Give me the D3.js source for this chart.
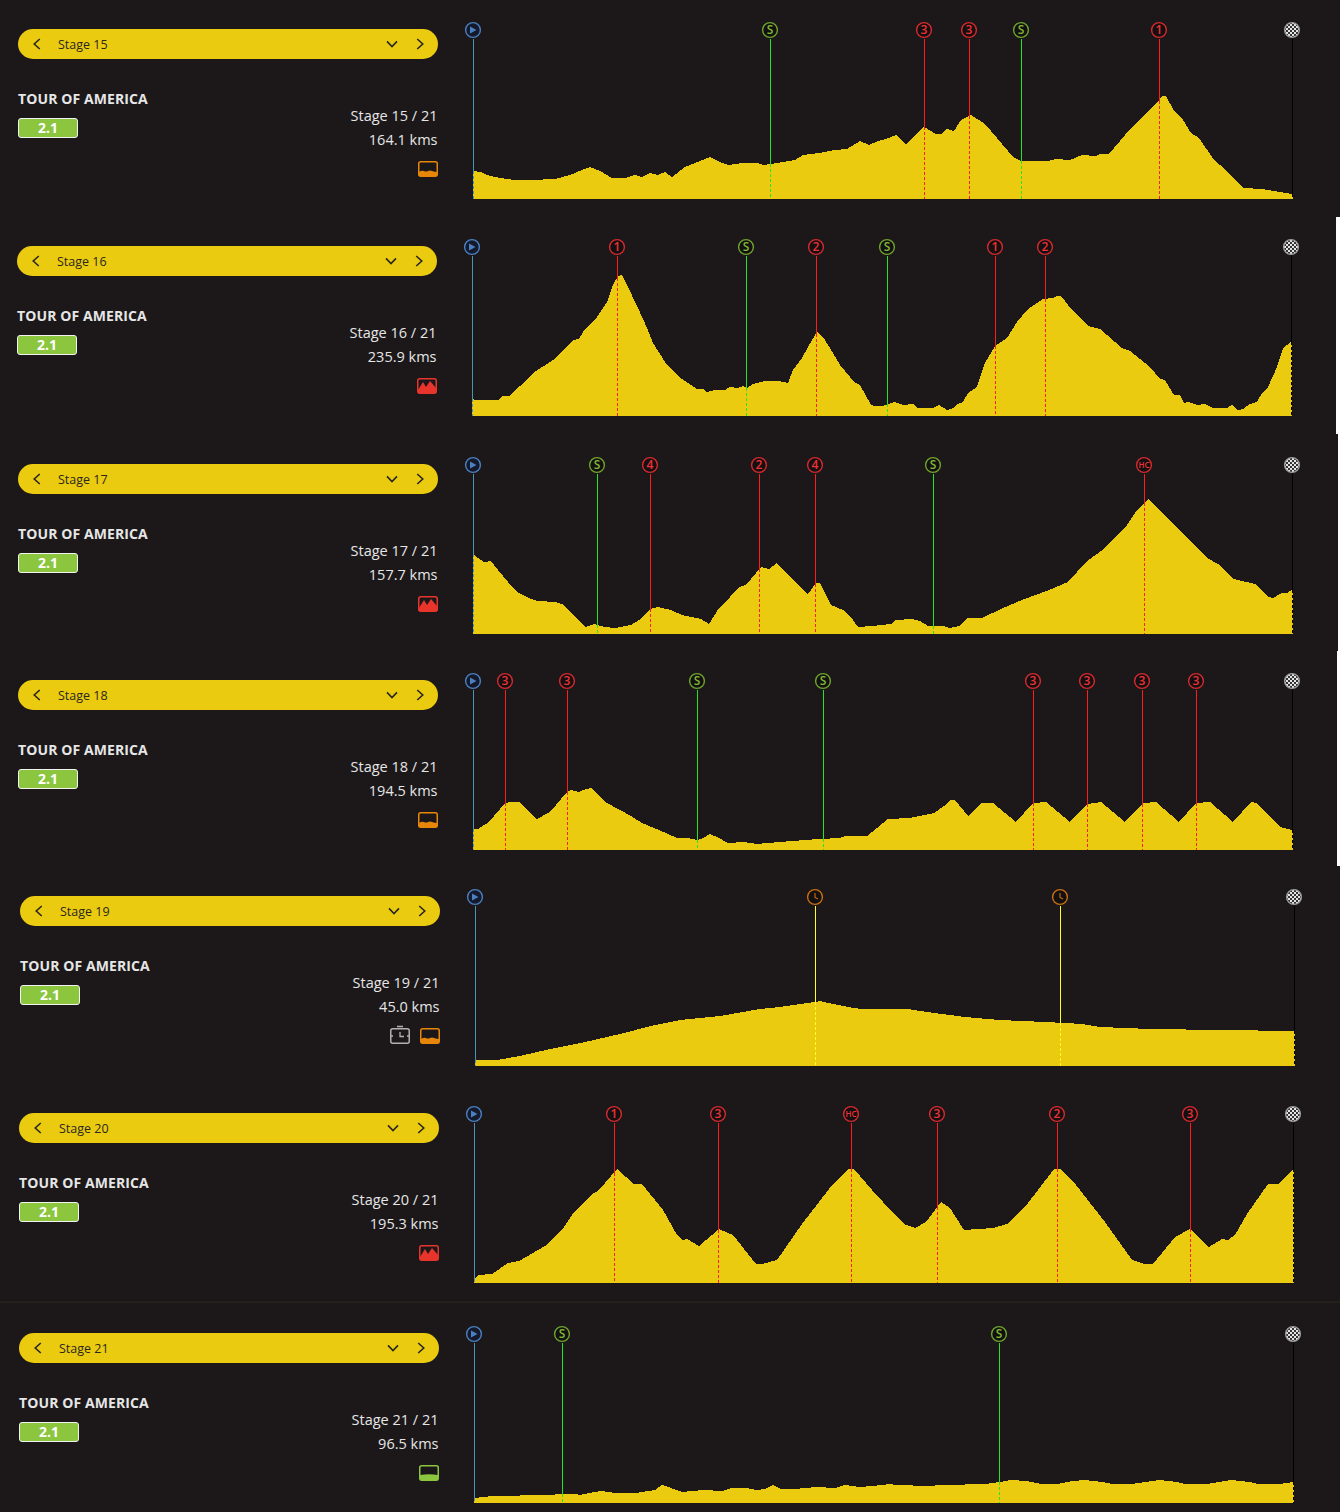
<!DOCTYPE html>
<html><head><meta charset="utf-8">
<script src="https://cdn.jsdelivr.net/npm/d3@7/dist/d3.min.js"></script>
<style>
html,body{margin:0;padding:0;background:#1c181a;overflow:hidden}
svg{display:block}
text{font-family:"Open Sans",sans-serif}
</style></head><body><svg id="c" width="1340" height="1512"></svg>
<script>
// Route position (0-819 along the stage) and elevation units
const stage15Profile=[[0,28],[8,27],[14,24],[27,21],[42,19],[57,19],[82,20],[97,24],[109,29],[117,32],[127,28],[139,21],[152,21],[162,24],[169,22],[177,26],[185,24],[192,27],[199,22],[212,32],[227,38],[237,42],[247,37],[255,34],[269,36],[285,36],[290,34],[298,35],[322,39],[330,44],[346,46],[362,49],[374,50],[387,58],[396,54],[405,58],[413,60],[423,64],[433,55],[451,72],[463,65],[468,65],[474,70],[481,68],[488,79],[498,84],[512,75],[524,61],[540,42],[548,38],[575,38],[583,40],[597,39],[609,44],[623,43],[627,45],[636,45],[658,71],[686,98],[689,103],[693,103],[700,90],[710,79],[718,66],[726,61],[741,39],[747,34],[755,26],[771,11],[789,10],[801,8],[819,5]];
const stage16Profile=[[0,17],[3,16],[26,16],[31,20],[37,20],[48,30],[61,43],[81,56],[93,68],[101,76],[107,77],[113,87],[125,99],[135,114],[141,131],[146,140],[150,141],[155,131],[166,108],[175,88],[181,73],[193,54],[200,46],[210,37],[225,27],[231,27],[235,24],[243,26],[253,26],[258,29],[266,28],[271,30],[275,28],[281,32],[293,35],[306,35],[316,33],[321,46],[330,58],[336,69],[345,84],[351,79],[361,63],[368,51],[383,33],[387,32],[392,24],[399,11],[402,10],[410,10],[416,12],[423,14],[431,11],[441,12],[446,8],[451,8],[461,8],[467,11],[475,6],[481,8],[486,12],[491,14],[496,23],[505,29],[513,53],[523,70],[535,78],[545,94],[556,107],[571,117],[581,118],[585,120],[589,120],[600,106],[616,90],[628,87],[650,68],[658,65],[678,49],[688,37],[693,36],[702,21],[708,21],[712,13],[716,14],[725,11],[733,12],[741,8],[748,8],[755,8],[760,11],[766,6],[771,7],[778,12],[785,14],[790,23],[796,29],[805,49],[811,68],[819,74]];
const stage17Profile=[[0,80],[5,76],[11,72],[18,73],[25,64],[35,52],[44,42],[56,36],[64,33],[83,32],[91,29],[102,17],[113,7],[121,10],[132,7],[142,6],[158,9],[166,14],[177,25],[185,27],[198,24],[209,19],[228,15],[236,10],[246,26],[257,37],[266,47],[273,49],[288,67],[296,65],[304,71],[313,61],[335,40],[343,51],[347,51],[358,29],[370,24],[380,14],[385,7],[399,8],[418,10],[423,14],[439,15],[447,13],[455,8],[471,8],[476,6],[487,8],[494,16],[509,16],[528,25],[549,34],[576,44],[595,52],[613,72],[632,86],[654,109],[664,124],[675,135],[683,127],[704,107],[734,76],[745,70],[761,55],[782,50],[795,37],[800,36],[809,41],[814,41],[819,44]];
const stage18Profile=[[0,21],[5,21],[16,28],[32,47],[38,48],[46,48],[64,31],[77,38],[94,58],[98,60],[106,58],[113,61],[118,62],[134,47],[158,34],[169,27],[193,17],[204,12],[214,12],[225,10],[230,12],[237,16],[246,12],[255,7],[270,8],[284,6],[295,7],[319,9],[346,11],[367,12],[372,14],[394,14],[404,22],[415,31],[437,32],[461,37],[471,44],[477,50],[482,50],[495,34],[509,47],[520,47],[543,28],[560,47],[573,48],[597,28],[614,46],[628,48],[652,28],[670,47],[683,48],[706,28],[723,47],[737,48],[760,28],[778,48],[784,47],[807,23],[819,20]];
const stage19Profile=[[0,6],[22,6],[45,10],[75,17],[110,24],[145,32],[180,41],[205,46],[245,50],[285,57],[305,59],[318,61],[340,64],[345,65],[353,63],[378,58],[387,57],[433,57],[452,54],[490,49],[525,46],[570,44],[590,43],[607,42],[625,39],[675,37],[819,35]];
const stage20Profile=[[0,4],[4,8],[18,9],[34,20],[45,22],[71,37],[90,56],[98,68],[117,88],[125,93],[143,114],[160,99],[168,99],[189,73],[203,48],[208,43],[213,44],[225,37],[245,54],[259,48],[282,19],[288,19],[303,23],[328,59],[342,77],[358,98],[374,114],[380,114],[398,93],[420,69],[430,59],[441,55],[452,61],[467,81],[476,75],[490,53],[519,55],[533,59],[551,76],[580,114],[586,114],[602,98],[631,61],[658,23],[671,19],[679,19],[701,46],[716,54],[735,36],[748,44],[754,43],[761,48],[773,69],[794,99],[805,99],[819,114]];
const stage21Profile=[[0,5],[19,7],[74,8],[87,9],[101,9],[106,8],[120,11],[128,12],[141,10],[162,10],[181,13],[188,18],[197,15],[208,11],[229,13],[248,12],[257,15],[272,15],[283,13],[291,14],[299,18],[307,14],[320,14],[342,16],[361,15],[370,18],[379,17],[385,16],[398,17],[417,19],[420,18],[436,18],[441,17],[460,17],[462,18],[489,18],[492,19],[511,19],[526,21],[537,23],[553,22],[567,19],[583,19],[599,22],[611,23],[628,21],[639,19],[658,19],[685,23],[703,21],[711,19],[733,19],[757,23],[776,21],[784,19],[805,19],[819,21]];

const stage15Points=[[0,'start'],[297,'S'],[451,'3'],[496,'3'],[548,'S'],[686,'1'],[819,'finish']];
const stage16Points=[[0,'start'],[145,'1'],[274,'S'],[344,'2'],[415,'S'],[523,'1'],[573,'2'],[819,'finish']];
const stage17Points=[[0,'start'],[124,'S'],[177,'4'],[286,'2'],[342,'4'],[460,'S'],[671,'HC'],[819,'finish']];
const stage18Points=[[0,'start'],[32,'3'],[94,'3'],[224,'S'],[350,'S'],[560,'3'],[614,'3'],[669,'3'],[723,'3'],[819,'finish']];
const stage19Points=[[0,'start'],[340,'clock'],[585,'clock'],[819,'finish']];
const stage20Points=[[0,'start'],[140,'1'],[244,'3'],[377,'HC'],[463,'3'],[583,'2'],[716,'3'],[819,'finish']];
const stage21Points=[[0,'start'],[88,'S'],[525,'S'],[819,'finish']];

const stageNumbers=[15,16,17,18,19,20,21];
const stageKms=['164.1','235.9','157.7','194.5','45.0','195.3','96.5'];
const stageTerrain=['hills','mountain','mountain','hills','hills','mountain','flat'];
const stageTimed=[false,false,false,false,true,false,false];
const raceName='TOUR OF AMERICA';
const raceClass='2.1';
const stageProfiles=[stage15Profile,stage16Profile,stage17Profile,stage18Profile,stage19Profile,stage20Profile,stage21Profile];
const stagePoints=[stage15Points,stage16Points,stage17Points,stage18Points,stage19Points,stage20Points,stage21Points];

// layout
const panelDx=[0,-1,0,0,2,1,1];
const panelDy=[0,217,435,651,867,1084,1304];
const YEL='#ebcb0f',BG='#1c181a';
const terrainColor={hills:'#e8860a',mountain:'#e8352c',flat:'#8cc63f'};
const svg=d3.select('#c');
svg.append('rect').attr('width',1340).attr('height',1512).attr('fill',BG);

const defs=svg.append('defs');
const pat=defs.append('pattern').attr('id','chk').attr('width',4).attr('height',4).attr('patternUnits','userSpaceOnUse');
pat.append('rect').attr('width',4).attr('height',4).attr('fill','#e4e4e4');
pat.append('rect').attr('width',2).attr('height',2).attr('fill','#333');
pat.append('rect').attr('x',2).attr('y',2).attr('width',2).attr('height',2).attr('fill','#333');

// screenshot seams
[[1336,217,434],[1338,434,651],[1337,651,866]].forEach(s=>svg.append('rect').attr('x',s[0]).attr('y',s[1]).attr('width',1340-s[0]).attr('height',s[2]-s[1]).attr('fill','#fff'));
svg.append('rect').attr('x',0).attr('y',1301.5).attr('width',1340).attr('height',1.5).attr('fill','#26221e');

const chev=(g,x,y,dir)=>{
  const s=3.6,t=5;
  const d={left:`M${x+s/1.3},${y-t}L${x-s/1.3},${y}L${x+s/1.3},${y+t}`,
           right:`M${x-s/1.3},${y-t}L${x+s/1.3},${y}L${x-s/1.3},${y+t}`,
           down:`M${x-t},${y-s/1.4}L${x},${y+s/1.4}L${x+t},${y-s/1.4}`}[dir];
  g.append('path').attr('d',d).attr('fill','none').attr('stroke','#2a2620').attr('stroke-width',1.6);
};

function icon(g,x,y,kind){
  const c=terrainColor[kind],w=20,h=16;
  g.append('rect').attr('x',x+.75).attr('y',y+.75).attr('width',w-1.5).attr('height',h-1.5).attr('rx',2).attr('fill',BG).attr('stroke',c).attr('stroke-width',1.5);
  let d;
  if(kind==='hills') d=`M${x+1},${y+11}q3,-2 5,-1q2,1 4,0q2,-1 4,0q3,1 5,1V${y+15}H${x+1}Z`;
  if(kind==='mountain') d=`M${x+1},${y+12}L${x+6},${y+4}L${x+9},${y+9}L${x+13},${y+3}L${x+19},${y+10}V${y+15}H${x+1}Z`;
  if(kind==='flat') d=`M${x+1},${y+10}q9,-1.5 18,0V${y+15}H${x+1}Z`;
  g.append('path').attr('d',d).attr('fill',c);
}
function clockIcon(g,x,y){
  const c='#b0b0b0';
  g.append('rect').attr('x',x+.75).attr('y',y+.75).attr('width',18.5).attr('height',14.5).attr('rx',2).attr('fill','none').attr('stroke',c).attr('stroke-width',1.5);
  g.append('path').attr('d',`M${x+7},${y-1.5}h6M${x+10},${y+4}v4.5h4M${x+1},${y+8}h2M${x+17},${y+8}h2`).attr('fill','none').attr('stroke',c).attr('stroke-width',1.3);
}

stageNumbers.forEach((num,i)=>{
  const dx=panelDx[i],dy=panelDy[i];
  const g=svg.append('g');
  // header bar
  g.append('rect').attr('x',18+dx).attr('y',29+dy).attr('width',420).attr('height',30).attr('rx',15).attr('fill',YEL);
  chev(g,37+dx,44+dy,'left');chev(g,392+dx,44+dy,'down');chev(g,420+dx,44+dy,'right');
  g.append('text').attr('x',58+dx).attr('y',49+dy).attr('font-size',12.5).attr('fill','#2a2620').text('Stage '+num);
  g.append('text').attr('x',18+dx).attr('y',104+dy).attr('font-size',14).attr('font-weight',700).attr('letter-spacing',.1).attr('fill','#e6e6e6').text(raceName);
  g.append('rect').attr('x',18.5+dx).attr('y',118.5+dy).attr('width',59).attr('height',19).attr('rx',2.5).attr('fill','#8cc63f').attr('stroke','#f2f2f2').attr('stroke-width',1);
  g.append('text').attr('x',48+dx).attr('y',133+dy).attr('text-anchor','middle').attr('font-size',14).attr('font-weight',700).attr('fill','#fff').text(raceClass);
  g.append('text').attr('x',437.5+dx).attr('y',121+dy).attr('text-anchor','end').attr('font-size',14.5).attr('fill','#e6e6e6').text(`Stage ${num} / 21`);
  g.append('text').attr('x',437.5+dx).attr('y',145+dy).attr('text-anchor','end').attr('font-size',14.5).attr('fill','#e6e6e6').text(stageKms[i]+' kms');
  icon(g,418+dx,161+dy,stageTerrain[i]);
  if(stageTimed[i]) clockIcon(g,388+dx,161+dy);

  // profile
  const x=d3.scaleLinear().domain([0,819]).range([473+dx,1292+dx]);
  const y=d3.scaleLinear().domain([0,170]).range([199+dy,29+dy]);
  const prof=stageProfiles[i];
  const area=d3.area().x(d=>x(d[0])).y0(y(0)).y1(d=>y(d[1]));
  g.append('path').attr('d',area(prof.concat([[820,prof[prof.length-1][1]]]))).attr('fill',YEL).attr('shape-rendering','crispEdges');
  const bis=d3.bisector(d=>d[0]).left;
  const elev=pos=>{
    const j=Math.max(1,Math.min(prof.length-1,bis(prof,pos)));
    const a=prof[j-1],b=prof[j];
    return d3.interpolateNumber(a[1],b[1])((pos-a[0])/(b[0]-a[0]));
  };
  const kindOf=k=>k==='start'?'start':k==='finish'?'finish':k==='S'?'sprint':k==='clock'?'clock':'kom';
  const lineCol={start:'#4a93b5',finish:'#000',sprint:'#22e622',clock:'#ffff1e',kom:'#ff1c1c'};
  const ringCol={start:'#4a80c0',finish:'#9a9a9a',sprint:'#6ea52c',clock:'#c8700f',kom:'#d62a2e'};
  stagePoints[i].forEach(p=>{
    const px=Math.round(x(p[0])),kind=kindOf(p[1]);
    const lx=px+.5, cy=30+dy, cx=px;
    const top=Math.round(y(elev(p[0])));
    g.append('line').attr('x1',lx).attr('x2',lx).attr('y1',cy+8.5).attr('y2',top).attr('stroke',lineCol[kind]).attr('stroke-width',1).attr('shape-rendering','crispEdges');
    g.append('line').attr('x1',lx).attr('x2',lx).attr('y1',top).attr('y2',y(0)).attr('stroke',lineCol[kind]).attr('stroke-width',1).attr('stroke-dasharray','3,2').attr('shape-rendering','crispEdges');
    g.append('circle').attr('cx',cx).attr('cy',cy).attr('r',7.4).attr('fill',kind==='finish'?'url(#chk)':kind==='start'?'#141a2c':'#141012').attr('stroke',ringCol[kind]).attr('stroke-width',1.4);
    if(kind==='start') g.append('path').attr('d',`M${cx-3},${cy-3.5}L${cx+3.5},${cy}L${cx-3},${cy+3.5}Z`).attr('fill','#4a80c0');
    else if(kind==='clock') g.append('path').attr('d',`M${cx},${cy-4}V${cy+.5}L${cx+3},${cy+2}`).attr('fill','none').attr('stroke',ringCol[kind]).attr('stroke-width',1.1);
    else if(kind!=='finish') g.append('text').attr('x',cx).attr('y',p[1]==='HC'?cy+3:cy+4.2).attr('text-anchor','middle').attr('font-size',p[1]==='HC'?8:12).attr('font-weight',600).attr('fill',kind==='kom'?'#ee3034':'#7fb832').text(p[1]);
  });
});
</script></body></html>
